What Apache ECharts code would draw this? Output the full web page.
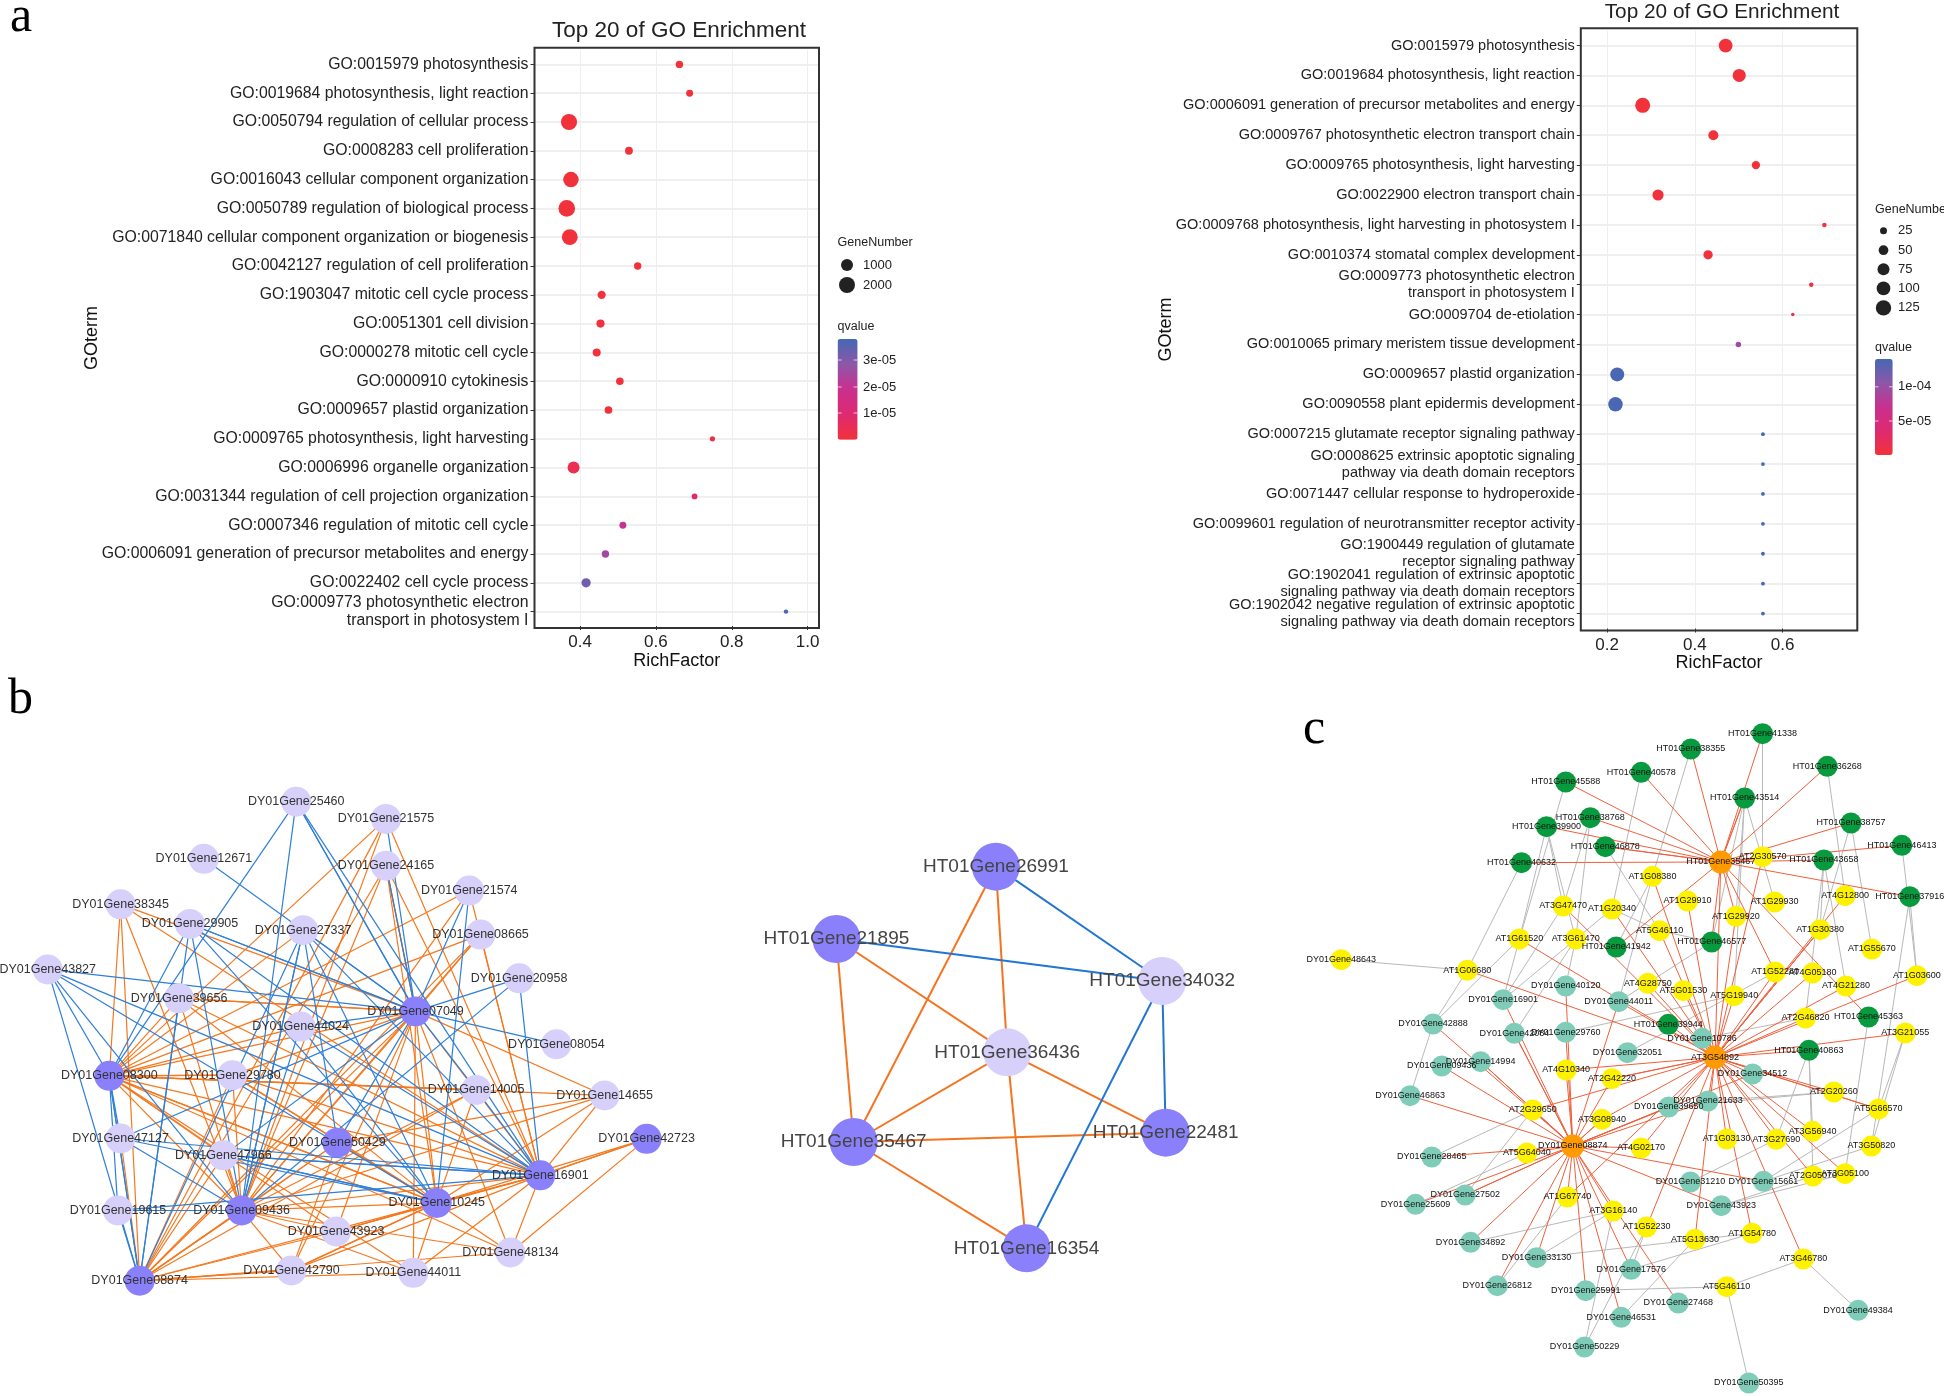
<!DOCTYPE html>
<html>
<head>
<meta charset="utf-8">
<title>GO enrichment and co-expression networks</title>
<script src="https://cdn.jsdelivr.net/npm/echarts@6/dist/echarts.min.js"></script>
<style>
  html, body { margin: 0; background: #fff; }
  #main { width: 1944px; height: 1396px; }
</style>
</head>
<body>
<div id="main"></div>
<script>
// panel a, left dot plot
const leftTerms = [
  'GO:0015979 photosynthesis', 'GO:0019684 photosynthesis, light reaction',
  'GO:0050794 regulation of cellular process', 'GO:0008283 cell proliferation',
  'GO:0016043 cellular component organization', 'GO:0050789 regulation of biological process',
  'GO:0071840 cellular component organization or biogenesis', 'GO:0042127 regulation of cell proliferation',
  'GO:1903047 mitotic cell cycle process', 'GO:0051301 cell division', 'GO:0000278 mitotic cell cycle',
  'GO:0000910 cytokinesis', 'GO:0009657 plastid organization', 'GO:0009765 photosynthesis, light harvesting',
  'GO:0006996 organelle organization', 'GO:0031344 regulation of cell projection organization',
  'GO:0007346 regulation of mitotic cell cycle', 'GO:0006091 generation of precursor metabolites and energy',
  'GO:0022402 cell cycle process', 'GO:0009773 photosynthetic electron\ntransport in photosystem I'
];
const leftRich = [0.662, 0.689, 0.371, 0.529, 0.376, 0.365, 0.373, 0.552, 0.457, 0.454, 0.444, 0.505, 0.475, 0.749, 0.383, 0.702, 0.513, 0.467, 0.416, 0.943];
const leftGenes = [250, 200, 2100, 300, 1900, 2250, 2000, 250, 350, 340, 320, 270, 280, 70, 1000, 100, 200, 250, 500, 30];
const leftQ = [1e-7, 1e-7, 1e-7, 1e-7, 1e-7, 1e-7, 1e-7, 2e-7, 3e-7, 3e-7, 4e-7, 5e-7, 1e-6, 2e-6, 4e-6, 8e-6, 2e-5, 2.5e-5, 3.2e-5, 3.75e-5];

// panel a, right dot plot
const rightTerms = [
  'GO:0015979 photosynthesis', 'GO:0019684 photosynthesis, light reaction',
  'GO:0006091 generation of precursor metabolites and energy', 'GO:0009767 photosynthetic electron transport chain',
  'GO:0009765 photosynthesis, light harvesting', 'GO:0022900 electron transport chain',
  'GO:0009768 photosynthesis, light harvesting in photosystem I', 'GO:0010374 stomatal complex development',
  'GO:0009773 photosynthetic electron\ntransport in photosystem I', 'GO:0009704 de-etiolation',
  'GO:0010065 primary meristem tissue development', 'GO:0009657 plastid organization',
  'GO:0090558 plant epidermis development', 'GO:0007215 glutamate receptor signaling pathway',
  'GO:0008625 extrinsic apoptotic signaling\npathway via death domain receptors', 'GO:0071447 cellular response to hydroperoxide',
  'GO:0099601 regulation of neurotransmitter receptor activity', 'GO:1900449 regulation of glutamate\nreceptor signaling pathway',
  'GO:1902041 regulation of extrinsic apoptotic\nsignaling pathway via death domain receptors',
  'GO:1902042 negative regulation of extrinsic apoptotic\nsignaling pathway via death domain receptors'
];
const rightRich = [0.470, 0.501, 0.281, 0.442, 0.539, 0.316, 0.695, 0.430, 0.665, 0.623, 0.499, 0.223, 0.219, 0.555, 0.555, 0.555, 0.555, 0.555, 0.555, 0.555];
const rightGenes = [100, 90, 118, 52, 35, 65, 10, 45, 10, 6, 15, 103, 110, 7, 7, 7, 7, 7, 7, 7];
const rightQ = [1e-7, 1e-7, 1e-7, 1e-7, 1e-7, 1e-7, 1e-7, 1e-7, 1e-6, 1e-5, 9.5e-5, 1.38e-4, 1.38e-4, 1.4e-4, 1.4e-4, 1.4e-4, 1.4e-4, 1.4e-4, 1.4e-4, 1.4e-4];

// panel b, left network: gene, layout x, layout y
const bHubs = [
  ['07049', 958, 701], ['08300', 252, 888], ['42723', 1491, 1071], ['50429', 778, 1082],
  ['16901', 1246, 1177], ['10245', 1007, 1257], ['09436', 557, 1279], ['08874', 322, 1483]
];
const bLeaves = [
  ['25460', 683, 92], ['21575', 890, 142], ['12671', 470, 258], ['24165', 890, 278], ['21574', 1082, 350],
  ['38345', 278, 390], ['29905', 438, 447], ['27337', 699, 465], ['08665', 1108, 478], ['43827', 110, 579],
  ['20958', 1197, 605], ['39656', 413, 663], ['44024', 693, 745], ['08054', 1283, 796], ['29780', 536, 886],
  ['14005', 1098, 929], ['14655', 1394, 945], ['47127', 278, 1070], ['47966', 515, 1119], ['19615', 272, 1279],
  ['43923', 775, 1340], ['48134', 1177, 1401], ['42790', 672, 1453], ['44011', 953, 1460]
];
const bOrange = {
  '21575': ['08300', '09436', '08874', '16901'],
  '24165': ['07049', '07049', '08874', '09436', '16901', '10245'],
  '21574': ['08300', '16901', '09436'],
  '38345': ['08300', '08874', '07049', '16901', '09436'],
  '27337': ['08300'],
  '08665': ['08300', '16901', '09436', '08874', '07049'],
  '39656': ['08300', '07049', '07049', '16901', '10245', '09436'],
  '44024': ['08300'],
  '29780': ['08300', '08300', '07049', '08874', '09436', '16901', '10245', '10245'],
  '14005': ['08300', '08300', '09436', '10245', '08874'],
  '14655': ['07049', '09436', '16901', '10245', '08300', '50429'],
  '42723': ['16901', '16901', '10245', '48134'],
  '47127': ['08874'],
  '47966': ['08300', '09436', '08874'],
  '43923': ['09436', '08300', '08874', '10245', '10245', '16901', '07049'],
  '48134': ['07049', '08300', '09436', '10245', '16901', '08874'],
  '42790': ['08874', '08874', '07049', '09436', '10245', '10245', '16901', '50429'],
  '44011': ['08874', '07049', '09436', '10245', '16901', '08300'],
  '07049': ['08300', '09436', '08874', '16901', '10245'],
  '08300': ['09436', '10245', '16901', '10245'],
  '08874': ['09436', '09436', '10245', '50429'],
  '09436': ['10245', '16901', '50429'],
  '10245': ['16901', '16901', '50429']
};
const bBlue = {
  '25460': ['08300', '09436', '07049', '07049', '16901'],
  '21575': ['07049'],
  '12671': ['07049'],
  '24165': ['07049'],
  '21574': ['07049', '10245'],
  '29905': ['07049', '07049', '16901', '10245', '09436', '08300', '08874'],
  '27337': ['09436', '09436', '08874', '07049', '16901', '10245', '50429'],
  '43827': ['07049', '08300', '08874', '09436', '10245', '16901'],
  '20958': ['07049', '09436', '16901'],
  '39656': ['08874'],
  '44024': ['07049', '16901', '10245', '09436'],
  '08054': ['07049'],
  '14005': ['07049', '16901'],
  '47127': ['08300', '09436', '10245', '16901', '07049'],
  '47966': ['07049', '16901', '16901', '10245', '10245'],
  '19615': ['08300', '09436', '09436', '08874', '16901'],
  '08300': ['08874', '08874'],
  '50429': ['07049']
};

// panel b, right network
const tHubs = [['26991', 743, 140], ['21895', 280, 357], ['35467', 330, 966], ['22481', 1236, 938], ['16354', 832, 1285]];
const tLeaves = [['34032', 1226, 483], ['36436', 776, 697]];
const tOrange = [
  ['26991', '35467'], ['26991', '36436'], ['21895', '36436'], ['21895', '35467'], ['36436', '35467'],
  ['36436', '22481'], ['36436', '16354'], ['35467', '22481'], ['35467', '16354']
];
const tBlue = [['26991', '34032'], ['21895', '34032'], ['34032', '22481'], ['34032', '16354']];

// panel c network. D = DY01Gene, H = HT01Gene
const cHubs = [['H35467', 1033, 456], ['AT3G54892', 1019, 1042], ['D08874', 678, 1308]];
const cGreen = [
  ['H41338', 1133, 71], ['H38355', 961, 117], ['H36268', 1288, 169], ['H40578', 842, 187], ['H45588', 661, 216],
  ['H43514', 1090, 264], ['H38768', 720, 323], ['H38757', 1345, 339], ['H39900', 615, 350], ['H46413', 1467, 406],
  ['H46878', 756, 410], ['H43658', 1280, 450], ['H40632', 555, 458], ['H37916', 1486, 560], ['H41942', 782, 711],
  ['H46577', 1011, 696], ['H39944', 907, 943], ['H45363', 1387, 921], ['H40863', 1244, 1021]
];
const cYellow = [
  ['AT2G30570', 1133, 440], ['AT1G08380', 869, 499], ['AT1G29910', 953, 573], ['AT1G29930', 1162, 576],
  ['AT4G12800', 1331, 557], ['AT1G29920', 1069, 619], ['AT3G47470', 655, 588], ['AT1G20340', 772, 597],
  ['AT5G46110', 886, 662], ['AT1G30380', 1271, 659], ['AT1G61520', 550, 687], ['AT3G61470', 685, 687],
  ['AT1G55670', 1395, 717], ['D48643', 123, 749], ['AT1G06680', 425, 781], ['AT1G52280', 1163, 786],
  ['AT4G05180', 1253, 789], ['AT1G03600', 1503, 797], ['AT4G21280', 1333, 828], ['AT4G28750', 858, 820],
  ['AT5G01530', 943, 842], ['AT5G19940', 1065, 857], ['AT2G46820', 1236, 924], ['AT3G21055', 1475, 969],
  ['AT4G10340', 662, 1080], ['AT2G42220', 772, 1106], ['AT2G20260', 1304, 1146], ['AT5G66570', 1411, 1197],
  ['AT2G29650', 582, 1200], ['AT3G08940', 748, 1228], ['AT3G56940', 1253, 1264], ['AT1G03130', 1047, 1287],
  ['AT3G27690', 1166, 1288], ['AT4G02170', 842, 1314], ['AT3G50820', 1394, 1308], ['AT5G64040', 568, 1329],
  ['AT3G05100', 1331, 1391], ['AT2G05070', 1254, 1398], ['AT1G67740', 665, 1461], ['AT3G16140', 775, 1503],
  ['AT1G52230', 855, 1551], ['AT5G13630', 971, 1588], ['AT1G54780', 1108, 1570], ['AT3G46780', 1231, 1647],
  ['AT5G46111', 1047, 1730]
];
const cTeal = [
  ['D40120', 661, 828], ['D16901', 511, 869], ['D44011', 788, 875], ['D42888', 343, 942], ['D42084', 538, 970],
  ['D29760', 661, 967], ['D10786', 988, 985], ['D32051', 809, 1028], ['D09436', 364, 1068], ['D14994', 457, 1055],
  ['D46863', 288, 1157], ['D34512', 1109, 1092], ['D21633', 1002, 1173], ['D39650', 908, 1191], ['D28465', 340, 1341],
  ['D27502', 420, 1455], ['D25609', 301, 1483], ['D31210', 960, 1416], ['D15661', 1135, 1414], ['D43923', 1034, 1487],
  ['D34892', 433, 1597], ['D33130', 591, 1643], ['D17576', 818, 1678], ['D26812', 497, 1727], ['D25991', 709, 1742],
  ['D27468', 931, 1779], ['D46531', 794, 1822], ['D49384', 1362, 1801], ['D50229', 706, 1911], ['D50395', 1100, 2019]
];
const cRed = {
  'H35467': ['H41338', 'H38355', 'H36268', 'H40578', 'H45588', 'H43514', 'H43514', 'H38768', 'H38757', 'H39900', 'H46878', 'H46878',
    'H46413', 'H43658', 'H40632', 'H37916', 'H41942', 'H45363', 'AT2G30570', 'AT1G52280', 'H46577', 'AT1G29920'],
  'AT3G54892': ['H35467', 'AT1G08380', 'AT3G47470', 'AT1G20340', 'AT1G29910', 'AT1G29920', 'AT2G30570', 'AT1G30380', 'AT1G30380', 'AT1G30380',
    'AT4G12800', 'AT1G61520', 'AT1G06680', 'AT5G46110', 'AT4G28750', 'AT5G01530', 'AT5G19940', 'AT1G52280', 'AT4G05180', 'AT4G21280',
    'AT1G03600', 'AT2G46820', 'AT3G21055', 'H39944', 'D10786', 'D34512', 'D21633', 'AT2G20260', 'AT5G66570', 'AT5G66570', 'AT3G56940',
    'AT3G27690', 'AT1G03130', 'AT3G05100', 'AT2G05070', 'AT2G42220', 'AT2G42220', 'AT4G10340', 'AT2G29650', 'AT3G08940', 'AT4G02170',
    'AT1G67740', 'AT5G13630', 'AT1G54780', 'AT1G52230', 'AT3G46780', 'D39650', 'H40863', 'D44011'],
  'D08874': ['D16901', 'D14994', 'D14994', 'D09436', 'D42084', 'D42084', 'D29760', 'D46863', 'D28465', 'AT5G64040', 'AT2G29650', 'D27502', 'D27502',
    'D25609', 'D34892', 'D33130', 'D26812', 'D25991', 'D46531', 'D17576', 'AT3G16140', 'AT1G67740', 'D27468', 'D43923', 'D15661', 'AT3G08940',
    'AT3G08940', 'AT4G02170', 'D39650', 'D39650', 'AT4G10340', 'D40120', 'D44011', 'D21633', 'D42888', 'AT2G42220', 'D34512']
};
const cGrey = [
  ['H41338', 'AT2G30570'], ['H38355', 'AT1G08380'], ['H40578', 'AT1G20340'], ['H45588', 'AT1G61520'], ['H43514', 'AT5G19940'], ['H43514', 'AT1G29930'],
  ['H36268', 'AT4G12800'], ['H38757', 'AT1G30380'], ['H38757', 'AT1G55670'], ['H39900', 'AT1G61520'], ['H39900', 'AT3G61470'], ['H38768', 'AT3G61470'],
  ['H38768', 'AT3G47470'], ['H39900', 'AT3G47470'], ['H46878', 'AT5G46110'], ['H40632', 'AT1G06680'], ['H46413', 'AT1G03600'], ['H37916', 'AT1G03600'],
  ['H43658', 'AT1G30380'], ['H43658', 'AT4G21280'], ['AT5G46110', 'AT1G20340'], ['AT5G46110', 'H46577'], ['H43514', 'H46577'], ['H43514', 'AT1G29920'],
  ['H41942', 'AT1G08380'], ['D48643', 'AT1G06680'], ['AT1G06680', 'D42888'], ['AT1G61520', 'D16901'], ['AT1G61520', 'D42888'], ['AT3G47470', 'D16901'],
  ['AT3G61470', 'D40120'], ['AT3G61470', 'D42084'], ['AT1G20340', 'D16901'], ['AT1G08380', 'D44011'], ['H46577', 'D44011'], ['D42888', 'D46863'],
  ['D29760', 'AT5G19940'], ['D32051', 'AT1G52280'], ['D10786', 'AT2G46820'], ['D39650', 'AT2G20260'], ['D21633', 'AT2G20260'], ['H40863', 'AT3G27690'],
  ['H40863', 'AT3G56940'], ['H40863', 'AT2G05070'], ['D31210', 'AT3G27690'], ['D15661', 'AT3G50820'], ['D43923', 'AT3G05100'], ['D43923', 'AT2G05070'],
  ['D15661', 'AT5G66570'], ['D27502', 'AT2G29650'], ['D25609', 'AT5G64040'], ['D28465', 'AT2G29650'], ['D34892', 'AT3G16140'], ['D33130', 'AT3G16140'],
  ['D33130', 'AT1G54780'], ['D26812', 'AT1G67740'], ['D25991', 'AT5G46111'], ['D46531', 'AT5G13630'], ['D50229', 'AT3G16140'], ['D50229', 'AT1G52230'],
  ['D17576', 'AT1G52230'], ['D17576', 'AT1G54780'], ['AT5G46111', 'AT3G46780'], ['AT3G46780', 'D49384'], ['AT5G46111', 'D50395'], ['AT3G21055', 'AT3G50820'],
  ['AT3G21055', 'AT5G66570'], ['H45363', 'AT3G05100'], ['H43658', 'AT2G46820'], ['H37916', 'AT3G50820']
];

const PLAIN = '"Liberation Sans",sans-serif';
const qColors = ['#f2323a', '#de2a70', '#c9308f', '#8d57a8', '#4468b4'];

const cLabel = k => k.startsWith('AT') ? (k === 'AT5G46111' ? 'AT5G46110' : k) : (k[0] === 'D' ? 'DY01Gene' : 'HT01Gene') + k.slice(1);

function dotAxes(gridIndex, terms, min, max, fontSize, lineH, nameGap) {
  return {
    x: {
      gridIndex, type: 'value', min, max, interval: 0.1, containShape: false,
      name: 'RichFactor', nameLocation: 'middle', nameGap: 26,
      nameTextStyle: { fontFamily: PLAIN, fontSize: 18, color: '#111' },
      axisLine: { show: false },
      axisTick: { show: true, length: 4, lineStyle: { color: '#333' }, customValues: [0.2, 0.4, 0.6, 0.8, 1.0].filter(v => v > min && v < max) },
      axisLabel: { fontFamily: PLAIN, fontSize: 17, color: '#222', margin: 8, customValues: [0.2, 0.4, 0.6, 0.8, 1.0].filter(v => v > min && v < max), formatter: v => v.toFixed(1) },
      splitLine: { show: true, lineStyle: { color: '#efefef', width: 1 } }
    },
    y: {
      gridIndex, type: 'category', data: terms, inverse: true,
      name: 'GOterm', nameLocation: 'middle', nameGap, nameRotate: 90, nameMoveOverlap: false,
      nameTextStyle: { fontFamily: PLAIN, fontSize: 18, color: '#111' },
      axisLine: { show: false },
      axisTick: { show: true, alignWithLabel: true, length: 4, lineStyle: { color: '#333' } },
      axisLabel: { fontFamily: PLAIN, fontSize, lineHeight: lineH, color: '#222', margin: 6, interval: 0 },
      splitLine: { show: true, interval: 0, alignWithLabel: true, lineStyle: { color: '#efefef', width: 2 } }
    }
  };
}
const hideAxis = (gridIndex, min, max, inverse) => ({ gridIndex, type: 'value', min, max, inverse, show: false, splitLine: { show: false } });

function dotSeries(i, terms, rich, genes, q, size) {
  return {
    type: 'scatter', xAxisIndex: i, yAxisIndex: i, z: 4, silent: true, animation: false,
    data: terms.map((t, k) => [rich[k], t, genes[k], q[k]]),
    symbolSize: size, itemStyle: { opacity: 1 }
  };
}

function graphSeries(i, nodes, links, labelSize, labelColor) {
  return {
    type: 'graph', coordinateSystem: 'cartesian2d', xAxisIndex: i, yAxisIndex: i, layout: 'none',
    silent: true, animation: false, z: 3,
    data: nodes, links: links, edgeSymbol: ['none', 'none'],
    label: { show: true, position: 'inside', fontFamily: PLAIN, fontSize: labelSize, color: labelColor },
    emphasis: { disabled: true }
  };
}

const node = (name, row, color, size) => ({ id: row[0], name, value: [row[1], row[2]], symbolSize: size, itemStyle: { color } });
const edge = (a, b, color, width) => ({ source: a, target: b, lineStyle: { color, width, opacity: 1, curveness: 0 } });

// panel b left
const bNodes = bHubs.map(r => node('DY01Gene' + r[0], r, '#8a80fb', 30)).concat(bLeaves.map(r => node('DY01Gene' + r[0], r, '#d6d0fb', 30)));
const bLinks = [];
Object.keys(bOrange).forEach(a => bOrange[a].forEach(b => bLinks.push(edge(a, b, '#f5781e', 1.2))));
Object.keys(bBlue).forEach(a => bBlue[a].forEach(b => bLinks.push(edge(a, b, '#2f7fd8', 1.2))));

// panel b right
const tNodes = tHubs.map(r => node('HT01Gene' + r[0], r, '#8a80fb', 48)).concat(tLeaves.map(r => node('HT01Gene' + r[0], r, '#d6d0fb', 48)));
const tLinks = tOrange.map(p => edge(p[0], p[1], '#f47521', 2)).concat(tBlue.map(p => edge(p[0], p[1], '#2176d2', 2)));

// panel c
const cNodes = cHubs.map(r => node(cLabel(r[0]), r, '#ff9a00', 23))
  .concat(cGreen.map(r => node(cLabel(r[0]), r, '#089a3e', 21)))
  .concat(cYellow.map(r => node(cLabel(r[0]), r, '#fff200', 21)))
  .concat(cTeal.map(r => node(cLabel(r[0]), r, '#7fcdb8', 21)));
const cLinks = cGrey.map(p => edge(p[0], p[1], '#b9b9b9', 1));
Object.keys(cRed).forEach(a => cRed[a].forEach(b => cLinks.push(edge(a, b, '#f0603c', 1))));

const ax1 = dotAxes(0, leftTerms, 0.28, 1.03, 15.8, 18, 433);
const ax2 = dotAxes(1, rightTerms, 0.14, 0.77, 14.5, 17, 406);

const legendText = (x, y, text, size) => ({ type: 'text', z: 20, silent: true, style: { x, y, text, font: size + 'px ' + PLAIN, fill: '#222', verticalAlign: 'middle' } });
const legendDot = (x, y, d) => ({ type: 'circle', z: 20, silent: true, shape: { cx: x, cy: y, r: d / 2 }, style: { fill: '#222' } });
const barTick = (x0, x1, y) => ({ type: 'line', z: 20, silent: true, shape: { x1: x0, y1: y, x2: x1, y2: y }, style: { stroke: '#fff', lineWidth: 1, opacity: 0.7 } });
const letter = (x, y, text) => ({ type: 'text', z: 20, silent: true, style: { x, y, text, font: '50px "Liberation Serif",serif', fill: '#000', verticalAlign: 'middle' } });

const option = {
  backgroundColor: '#fff',
  animation: false,
  title: [
    { text: 'Top 20 of GO Enrichment', left: 674, top: 14, textAlign: 'center', textStyle: { fontFamily: PLAIN, fontSize: 22.5, fontWeight: 'normal', color: '#222' } },
    { text: 'Top 20 of GO Enrichment', left: 1717, top: -3, textAlign: 'center', textStyle: { fontFamily: PLAIN, fontSize: 20.8, fontWeight: 'normal', color: '#222' } }
  ],
  grid: [
    { left: 534.5, top: 50, width: 284.5, height: 576 },
    { left: 1580.8, top: 30.6, width: 276.5, height: 597.9 },
    { left: 0, top: 770, width: 680, height: 540 },
    { left: 740, top: 820, width: 540, height: 480 },
    { left: 1290, top: 710, width: 654, height: 686 },
    // plot frames, a little taller than the rows
    { left: 534.5, top: 47.7, width: 284.5, height: 580.3, show: true, borderColor: '#333', borderWidth: 2, backgroundColor: 'transparent', z: 5 },
    { left: 1580.8, top: 28.2, width: 276.5, height: 602.3, show: true, borderColor: '#333', borderWidth: 2, backgroundColor: 'transparent', z: 5 }
  ],
  xAxis: [ax1.x, ax2.x, hideAxis(2, 0, 1568, false), hideAxis(3, 0, 1568, false), hideAxis(4, 0, 1568, false)],
  yAxis: [ax1.y, ax2.y, hideAxis(2, 0, 1568, true), hideAxis(3, 0, 1440, true), hideAxis(4, 0, 2058, true)],
  visualMap: [
    { type: 'continuous', seriesIndex: 0, dimension: 3, min: 0, max: 3.79e-5, left: 837.6, top: 339, itemWidth: 20, itemHeight: 100.7, padding: 0, calculable: false, hoverLink: false, inRange: { color: qColors } },
    { type: 'continuous', seriesIndex: 1, dimension: 3, min: 0, max: 1.406e-4, left: 1875, top: 359, itemWidth: 17.7, itemHeight: 96, padding: 0, calculable: false, hoverLink: false, inRange: { color: qColors } }
  ],
  series: [
    dotSeries(0, leftTerms, leftRich, leftGenes, leftQ, v => 2.83 + 0.29 * Math.sqrt(v[2])),
    dotSeries(1, rightTerms, rightRich, rightGenes, rightQ, v => 0.2 + 1.36 * Math.sqrt(v[2])),
    graphSeries(2, bNodes, bLinks, 12.5, '#333'),
    graphSeries(3, tNodes, tLinks, 19, '#444'),
    graphSeries(4, cNodes, cLinks, 9, '#111')
  ],
  graphic: [
    letter(10, 18, 'a'), letter(8, 700, 'b'), letter(1303, 730, 'c'),
    legendText(837.6, 243, 'GeneNumber', 12.5), legendDot(847, 265, 12), legendDot(847, 285, 16),
    legendText(863, 265, '1000', 13), legendText(863, 285, '2000', 13),
    legendText(837.6, 327, 'qvalue', 12.5),
    legendText(863, 360, '3e-05', 13), legendText(863, 387, '2e-05', 13), legendText(863, 413, '1e-05', 13),
    barTick(837.6, 841.6, 360), barTick(853.6, 857.6, 360), barTick(837.6, 841.6, 387), barTick(853.6, 857.6, 387), barTick(837.6, 841.6, 413), barTick(853.6, 857.6, 413),
    legendText(1875, 210, 'GeneNumber', 12.5),
    legendDot(1883.5, 230.7, 7), legendDot(1883.5, 250.2, 9.7), legendDot(1883.5, 269.3, 12), legendDot(1883.5, 288.4, 13.7), legendDot(1883.5, 307.9, 15.4),
    legendText(1898, 230.7, '25', 13), legendText(1898, 250.2, '50', 13), legendText(1898, 269.3, '75', 13), legendText(1898, 288.4, '100', 13), legendText(1898, 307.9, '125', 13),
    legendText(1875, 348, 'qvalue', 12.5),
    legendText(1898, 386.8, '1e-04', 13), legendText(1898, 421, '5e-05', 13),
    barTick(1875, 1878.5, 386.8), barTick(1889, 1892.7, 386.8), barTick(1875, 1878.5, 421), barTick(1889, 1892.7, 421)
  ]
};

const myChart = echarts.init(document.getElementById('main'), null, { renderer: 'canvas' });
myChart.setOption(option);
</script>
</body>
</html>
